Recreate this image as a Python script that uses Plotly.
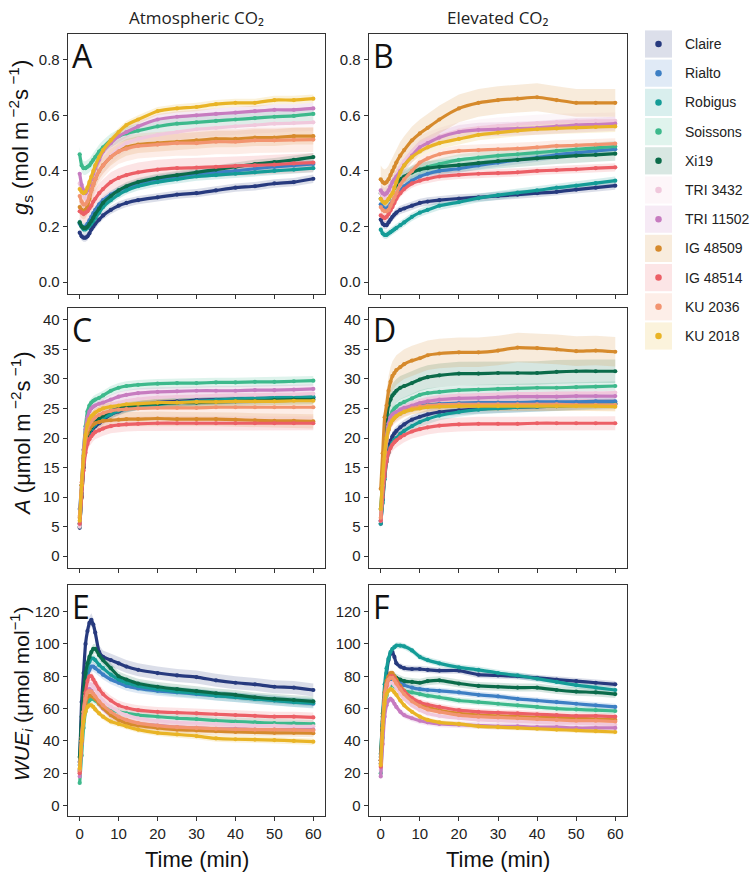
import plotly.graph_objects as go

GENOTYPES = ["Claire", "Rialto", "Robigus", "Soissons", "Xi19", "TRI 3432",
             "TRI 11502", "IG 48509", "IG 48514", "KU 2036", "KU 2018"]
COLORS = ["#273a7e", "#3d7fc4", "#149c97", "#3db98c", "#0b6b4a", "#f0c8dc",
          "#c77cc0", "#d68a2c", "#ec5f66", "#f29470", "#e9b426"]

TIME = [0, 0.5, 1, 1.5, 2, 2.5, 3, 3.5, 4, 5, 6, 8, 10, 12, 15, 20, 25, 30, 35, 40, 45, 50, 55, 60]

# stomatal conductance, atmospheric CO2 (panel A)
GS_ATM = [
    [0.178,0.165,0.160,0.160,0.165,0.175,0.190,0.200,0.210,0.225,0.240,0.260,0.275,0.285,0.295,0.305,0.315,0.320,0.330,0.340,0.345,0.355,0.360,0.372],
    [0.210,0.200,0.198,0.200,0.210,0.222,0.235,0.248,0.260,0.280,0.295,0.315,0.330,0.340,0.355,0.370,0.380,0.390,0.395,0.400,0.408,0.415,0.420,0.425],
    [0.215,0.200,0.190,0.190,0.195,0.202,0.210,0.220,0.230,0.250,0.270,0.295,0.315,0.330,0.345,0.360,0.370,0.380,0.385,0.390,0.395,0.400,0.405,0.410],
    [0.460,0.420,0.410,0.410,0.415,0.420,0.430,0.440,0.450,0.470,0.485,0.510,0.525,0.535,0.545,0.560,0.570,0.575,0.580,0.585,0.590,0.595,0.598,0.605],
    [0.215,0.200,0.195,0.195,0.200,0.210,0.220,0.232,0.245,0.265,0.285,0.310,0.330,0.345,0.360,0.375,0.385,0.395,0.405,0.415,0.425,0.432,0.440,0.450],
    [0.355,0.330,0.310,0.300,0.300,0.310,0.330,0.350,0.370,0.400,0.420,0.455,0.480,0.500,0.515,0.530,0.540,0.550,0.555,0.560,0.565,0.570,0.572,0.575],
    [0.390,0.350,0.330,0.320,0.330,0.350,0.370,0.390,0.410,0.440,0.470,0.500,0.525,0.540,0.560,0.585,0.595,0.600,0.605,0.610,0.615,0.620,0.620,0.625],
    [0.270,0.260,0.255,0.260,0.275,0.300,0.330,0.350,0.370,0.400,0.420,0.450,0.470,0.485,0.495,0.500,0.505,0.510,0.515,0.515,0.520,0.520,0.525,0.525],
    [0.255,0.250,0.245,0.250,0.255,0.265,0.275,0.290,0.300,0.320,0.335,0.360,0.375,0.385,0.395,0.405,0.410,0.412,0.415,0.418,0.420,0.423,0.427,0.430],
    [0.310,0.290,0.280,0.280,0.290,0.310,0.330,0.350,0.370,0.400,0.420,0.450,0.470,0.480,0.490,0.495,0.500,0.500,0.505,0.505,0.510,0.510,0.512,0.513],
    [0.335,0.325,0.320,0.325,0.340,0.360,0.380,0.400,0.420,0.450,0.475,0.510,0.540,0.565,0.585,0.615,0.625,0.630,0.640,0.645,0.645,0.655,0.655,0.660],
]
GS_ATM_SE = [0.015,0.015,0.015,0.025,0.015,0.03,0.02,0.03,0.035,0.045,0.015]

# stomatal conductance, elevated CO2 (panel B)
GS_ELEV = [
    [0.225,0.210,0.205,0.205,0.215,0.225,0.235,0.243,0.250,0.260,0.265,0.275,0.285,0.290,0.295,0.301,0.305,0.310,0.315,0.320,0.325,0.333,0.340,0.347],
    [0.280,0.270,0.265,0.265,0.270,0.280,0.290,0.300,0.310,0.330,0.345,0.365,0.380,0.390,0.400,0.408,0.420,0.430,0.440,0.448,0.458,0.465,0.472,0.478],
    [0.189,0.175,0.170,0.170,0.175,0.180,0.185,0.190,0.195,0.205,0.215,0.235,0.250,0.260,0.275,0.288,0.302,0.313,0.322,0.330,0.340,0.347,0.356,0.365],
    [0.320,0.310,0.300,0.300,0.310,0.320,0.330,0.340,0.350,0.365,0.378,0.395,0.405,0.415,0.425,0.440,0.448,0.455,0.460,0.466,0.472,0.478,0.483,0.488],
    [0.300,0.300,0.295,0.295,0.300,0.315,0.330,0.340,0.350,0.370,0.380,0.395,0.405,0.410,0.415,0.421,0.428,0.435,0.440,0.445,0.450,0.455,0.458,0.462],
    [0.320,0.310,0.300,0.305,0.310,0.322,0.335,0.360,0.380,0.410,0.435,0.470,0.495,0.510,0.525,0.545,0.555,0.562,0.568,0.572,0.576,0.578,0.580,0.580],
    [0.330,0.320,0.315,0.320,0.330,0.345,0.360,0.370,0.380,0.400,0.420,0.455,0.485,0.500,0.520,0.540,0.548,0.550,0.552,0.555,0.560,0.565,0.567,0.570],
    [0.370,0.360,0.355,0.360,0.370,0.385,0.400,0.415,0.430,0.455,0.475,0.510,0.535,0.555,0.585,0.625,0.645,0.655,0.660,0.665,0.655,0.645,0.645,0.645],
    [0.240,0.235,0.230,0.235,0.245,0.258,0.270,0.285,0.300,0.320,0.335,0.355,0.365,0.372,0.380,0.386,0.390,0.392,0.395,0.400,0.403,0.406,0.410,0.413],
    [0.270,0.260,0.255,0.255,0.260,0.275,0.290,0.305,0.320,0.350,0.370,0.400,0.430,0.445,0.460,0.472,0.475,0.478,0.480,0.485,0.490,0.492,0.495,0.498],
    [0.300,0.290,0.285,0.290,0.300,0.310,0.320,0.340,0.360,0.395,0.420,0.450,0.470,0.485,0.500,0.515,0.530,0.538,0.545,0.550,0.553,0.556,0.558,0.560],
]
GS_ELEV_SE = [0.015,0.015,0.015,0.02,0.025,0.03,0.025,0.05,0.015,0.02,0.02]

# net assimilation, atmospheric CO2 (panel C)
A_ATM = [
    [4.8,10.0,15.0,18.5,20.0,20.8,21.3,21.7,22.0,22.5,23.0,24.0,24.5,25.0,25.5,26.0,26.2,26.4,26.5,26.6,26.7,26.7,26.8,26.8],
    [8.0,12.0,16.0,19.0,20.5,21.3,21.8,22.2,22.5,23.0,23.5,24.3,24.8,25.2,25.5,25.8,26.0,26.2,26.3,26.5,26.6,26.7,26.8,26.9],
    [5.5,11.0,15.5,18.5,20.0,21.0,21.5,22.0,22.3,22.8,23.3,24.0,24.6,25.0,25.4,25.7,26.0,26.2,26.4,26.6,26.7,26.8,26.9,27.0],
    [5.5,12.0,18.0,22.0,24.5,25.5,26.0,26.3,26.5,26.8,27.2,28.0,28.5,28.8,29.0,29.2,29.3,29.3,29.4,29.4,29.5,29.5,29.6,29.7],
    [5.0,10.0,15.0,18.5,20.3,21.2,21.8,22.3,22.7,23.3,23.8,24.6,25.0,25.3,25.6,25.8,26.0,26.0,26.1,26.2,26.3,26.4,26.5,26.5],
    [5.0,11.0,16.0,19.5,21.5,22.5,23.2,23.7,24.0,24.5,25.0,25.6,26.0,26.3,26.6,26.9,27.0,27.1,27.2,27.3,27.3,27.4,27.4,27.5],
    [5.5,12.0,18.0,21.5,23.5,24.5,25.0,25.3,25.5,25.8,26.0,26.5,27.0,27.3,27.6,27.8,27.9,28.0,28.0,28.0,28.1,28.1,28.2,28.3],
    [6.5,12.0,16.5,19.5,20.8,21.5,22.0,22.3,22.5,22.7,22.9,23.0,23.1,23.2,23.2,23.3,23.2,23.2,23.2,23.1,23.0,22.9,22.9,22.8],
    [5.5,10.0,14.5,17.5,19.0,19.8,20.3,20.7,21.0,21.3,21.6,22.0,22.2,22.3,22.4,22.5,22.5,22.5,22.5,22.5,22.5,22.5,22.5,22.5],
    [6.8,12.5,17.0,20.0,21.5,22.3,22.8,23.2,23.5,23.9,24.2,24.6,24.8,24.9,25.0,25.1,25.1,25.1,25.2,25.2,25.2,25.2,25.2,25.2],
    [6.0,12.0,17.0,20.5,22.3,23.2,23.7,24.0,24.3,24.7,25.0,25.3,25.5,25.7,25.8,26.0,26.0,26.1,26.1,26.2,26.2,26.2,26.3,26.3],
]
A_ATM_SE = [0.7,0.7,0.7,0.8,0.8,1.0,0.8,1.2,1.2,1.5,0.7]

# net assimilation, elevated CO2 (panel D)
A_ELEV = [
    [5.5,9.5,13.5,16.5,18.5,19.5,20.3,20.8,21.2,21.8,22.3,23.1,23.6,24.0,24.4,24.7,24.9,25.1,25.2,25.3,25.4,25.6,25.8,25.9],
    [6.0,11.0,16.0,19.5,21.5,22.5,23.2,23.6,24.0,24.4,24.8,25.2,25.5,25.6,25.8,25.9,26.0,26.0,26.0,26.1,26.1,26.1,26.2,26.2],
    [5.5,9.0,13.0,16.0,17.5,18.5,19.2,19.7,20.0,20.7,21.2,22.0,22.7,23.2,23.8,24.4,24.8,25.0,25.2,25.3,25.4,25.5,25.6,25.7],
    [6.0,11.0,16.0,20.0,22.5,23.8,24.5,25.0,25.3,25.8,26.1,26.7,27.3,27.6,27.8,28.1,28.2,28.3,28.4,28.5,28.5,28.6,28.7,28.8],
    [8.0,13.0,19.0,23.0,25.5,26.5,27.2,27.6,28.0,28.5,28.8,29.3,29.9,30.3,30.6,30.9,30.9,31.0,31.0,31.0,31.2,31.3,31.3,31.3],
    [6.0,11.5,16.5,20.0,22.0,23.0,23.6,24.0,24.3,24.8,25.2,25.8,26.3,26.6,26.9,27.2,27.3,27.4,27.5,27.5,27.6,27.6,27.6,27.7],
    [6.0,12.0,17.0,20.5,22.5,23.5,24.0,24.2,24.4,24.8,25.1,25.5,25.9,26.2,26.5,26.7,26.8,26.9,27.0,27.0,27.0,27.1,27.1,27.1],
    [11.4,17.4,23.5,25.5,28.0,29.5,30.5,31.0,31.5,32.0,32.5,33.1,33.5,34.0,34.3,34.5,34.5,34.8,35.3,35.2,35.0,34.7,34.8,34.6],
    [6.0,10.0,13.5,16.0,17.5,18.3,18.9,19.3,19.6,20.1,20.5,21.1,21.5,21.8,22.1,22.3,22.4,22.4,22.4,22.5,22.5,22.5,22.5,22.5],
    [6.5,12.0,16.5,19.5,21.3,22.3,23.0,23.4,23.7,24.1,24.5,25.0,25.3,25.5,25.6,25.7,25.7,25.7,25.7,25.7,25.7,25.6,25.6,25.6],
    [8.0,13.5,17.5,20.0,21.5,22.5,23.0,23.4,23.7,24.1,24.4,24.8,25.0,25.2,25.3,25.4,25.4,25.4,25.4,25.4,25.4,25.4,25.4,25.3],
]
A_ELEV_SE = [0.8,0.8,0.8,0.8,2.0,1.5,0.8,2.5,1.2,1.0,0.8]

# intrinsic water-use efficiency, atmospheric CO2 (panel E)
WUE_ATM = [
    [27,64,82,100,108,113,115,112,107,95,92,90,88,86,84,82,80.5,79.5,77.5,76,75,73.5,73,71.5],
    [22,45,62,73,80,84,86,86,85,83,81,78,76,74,72.5,71,70,69,68,67,66,65,64,63],
    [25,50,68,78,85,89,91,91,90,87,85,81,78,76,74,72,70.5,69.5,68,67,66,65,64,63.5],
    [14,31,48,58,63,65,66,66,65,63,61,59,58,57,56,55,54,53.5,52.5,52,51.5,51,50.8,50.5],
    [30,55,70,82,88,92,95,97,97,93,90,85,80,78,75.5,73.5,72,70.8,69.5,68.5,67,66,65.3,64.5],
    [20,40,58,68,73,75,75,73.5,72,68,65,61,58,56,54,52.5,51.5,51,50.5,50,49.5,49.5,49,49],
    [18,38,56,66,71,72,71,69,67,63,60,56,53.5,52,50.5,49.5,48.5,48,47.5,47.5,47,47,47,47],
    [21,40,55,63,67,68,68,67,66,63,60.5,56,53,51,49.5,48,47,46.5,46,45.5,45.3,45,45,44.8],
    [20,40,58,70,77,80,80,78,76,72,69,65,62,60.5,59,58,57.5,57,56.5,56,55.5,55,55,54.5],
    [22,42,58,66,70,71,70.5,69,67.5,64.5,62,58,55,53,51,49.5,48.5,48,47.5,47.2,47,47,46.8,46.5],
    [23,40,52,58,61,62,62,61,59.5,57,55,52,50.5,49,47,45,44,43,41.5,41,40.8,40.5,40,39.5],
]
WUE_ATM_SE = [4.0,3.0,3.0,2.5,3.0,3.0,2.5,2.5,3.0,3.0,2.0]

# intrinsic water-use efficiency, elevated CO2 (panel F)
WUE_ELEV = [
    [28,50,70,82,90,94,95,92,88,86,85,84.5,84.5,84,83.5,83.5,81,80.5,80,79,78,77,76,75],
    [26,50,66,73,76,78,79,78.5,78,76,74.5,73,72,71.5,71,70,68.5,67.5,66,65,64,63,62,61],
    [32,57,75,85,91,95,97,98,99,99,98.5,96,92,90,88,85.5,84,82,80.5,78.5,76.5,74.5,73,71.5],
    [20,42,60,68,72,74,74.5,74,73,72,71,70,69,68,67,65,64,63,62,61,60,59.5,59,58.5],
    [30,55,68,74,77,79,80,80,79,78,77,76.5,76,77,77.5,75.5,74,73.5,73,73,71.5,70.5,70,69],
    [22,45,62,70,74,76,76,74.5,73,69,66,62,59,57,55.5,54,53,52.5,52,51.5,51,51,50.5,50],
    [18,38,55,62,65,66,65,63,61,58,56,54,52.5,51.5,50.5,50,49.5,49,49,48.5,48.5,48,48,48],
    [28,52,70,77,80,82,82,80,78,74,71,66,63,61,59,57,56,55.5,55,54.5,54.5,54,53.5,53],
    [24,48,66,74,78,80,80,78.5,76.5,73,70.5,66.5,64,62.5,61,59,58,57.5,57,56.5,56,55.5,55.5,55],
    [26,50,68,75,78,79,79,77.5,75.5,72,69,64.5,61.5,59.5,58,56,55,54.5,54,53.5,53,52.5,52.5,52],
    [25,48,63,69,71,72,71.5,70,68.5,65,62,58,55,53,51.5,50.5,49,48.5,48,47.5,47,46.5,46,45.5],
]
WUE_ELEV_SE = [2.0,2.0,2.0,2.0,2.5,2.0,2.0,2.0,2.0,2.0,1.5]

PANEL_LETTERS = ["A", "B", "C", "D", "E", "F"]
COL_TITLES = ["Atmospheric CO₂", "Elevated CO₂"]
Y_TITLES = ["<i>g</i><sub>s</sub> (mol m<sup> −2</sup>s<sup> −1</sup>)",
            "<i>A</i> (μmol m<sup> −2</sup>s<sup> −1</sup>)",
            "<i>WUE</i><sub><i>i</i></sub> (μmol mol<sup>−1</sup>)"]
X_TITLE = "Time (min)"

# ---------------- layout geometry (pixels) ----------------
W, H = 755, 875
COL_PX = [(68, 325), (369, 627)]
ROW_PX = [(34, 294), (308, 568), (585, 816)]
Y_TITLE_CENTER = [138, 434, 694]
Y_TITLE_SIZE = [22, 22, 21]
Y_RANGES = [(-0.0425, 0.8925), (-2.0, 42.0), (-6.5, 136.5)]
Y_TICKS = [[0, 0.2, 0.4, 0.6, 0.8], [0, 5, 10, 15, 20, 25, 30, 35, 40], [0, 20, 40, 60, 80, 100, 120]]
Y_TICKTEXT = [["0.0", "0.2", "0.4", "0.6", "0.8"], None, None]
X_TICKS = [0, 10, 20, 30, 40, 50, 60]

TICK_FONT = dict(family="Liberation Sans, Arial, sans-serif", size=15, color="#222")
FRAME = "#333333"


def xd(a, b):
    return [a / W, b / W]


def yd(top, bottom):
    return [1 - bottom / H, 1 - top / H]


def rgba(hexc, a):
    h = hexc.lstrip("#")
    r, g, b = int(h[0:2], 16), int(h[2:4], 16), int(h[4:6], 16)
    return f"rgba({r},{g},{b},{a})"


PANELS = [
    (GS_ATM, GS_ATM_SE), (GS_ELEV, GS_ELEV_SE),
    (A_ATM, A_ATM_SE), (A_ELEV, A_ELEV_SE),
    (WUE_ATM, WUE_ATM_SE), (WUE_ELEV, WUE_ELEV_SE),
]

fig = go.Figure()
layout = {}
annotations = []
shapes = []

for p, (data, se) in enumerate(PANELS):
    row, col = divmod(p, 2)
    n = p + 1
    xa = "x" if n == 1 else f"x{n}"
    ya = "y" if n == 1 else f"y{n}"
    # ribbons first
    for g in range(len(GENOTYPES)):
        up = [v + se[g] for v in data[g]]
        lo = [v - se[g] for v in data[g]]
        fig.add_trace(go.Scatter(
            x=TIME + TIME[::-1], y=up + lo[::-1], fill="toself",
            fillcolor=rgba(COLORS[g], 0.17), line=dict(width=0),
            mode="lines", hoverinfo="skip", showlegend=False,
            xaxis=xa, yaxis=ya))
    for g in range(len(GENOTYPES)):
        fig.add_trace(go.Scatter(
            x=TIME, y=data[g], mode="lines+markers", name=GENOTYPES[g],
            line=dict(color=COLORS[g], width=3.2, shape="spline", smoothing=0.5),
            marker=dict(size=4.2, color=COLORS[g]),
            showlegend=False, xaxis=xa, yaxis=ya))

    xkey = "xaxis" if n == 1 else f"xaxis{n}"
    ykey = "yaxis" if n == 1 else f"yaxis{n}"
    layout[xkey] = dict(
        domain=xd(*COL_PX[col]), anchor=ya, range=[-3, 63],
        tickmode="array", tickvals=X_TICKS, showticklabels=(row == 2),
        ticks="outside", ticklen=4, tickwidth=1, tickcolor=FRAME,
        showline=True, mirror=True, linecolor=FRAME, linewidth=1.3,
        showgrid=False, zeroline=False, tickfont=TICK_FONT)
    ykw = dict(
        domain=yd(*ROW_PX[row]), anchor=xa, range=list(Y_RANGES[row]),
        tickmode="array", tickvals=Y_TICKS[row],
        ticks="outside", ticklen=4, tickwidth=1, tickcolor=FRAME,
        showline=True, mirror=True, linecolor=FRAME, linewidth=1.3,
        showgrid=False, zeroline=False, tickfont=TICK_FONT)
    if Y_TICKTEXT[row] is not None:
        ykw["ticktext"] = Y_TICKTEXT[row]
    layout[ykey] = ykw

    # panel letter
    annotations.append(dict(
        text=PANEL_LETTERS[p], xref="paper", yref="paper",
        x=(COL_PX[col][0] + 2) / W, y=1 - (ROW_PX[row][0] - 2) / H,
        xanchor="left", yanchor="top", showarrow=False,
        font=dict(family="Open Sans, sans-serif", size=32, color="#111")))

# column titles
for col in range(2):
    cx = (COL_PX[col][0] + COL_PX[col][1]) / 2
    annotations.append(dict(
        text=COL_TITLES[col], xref="paper", yref="paper", x=cx / W, y=1 - 17 / H,
        xanchor="center", yanchor="middle", showarrow=False,
        font=dict(family="Open Sans, sans-serif", size=17, color="#222")))

# y-axis titles
for row in range(3):
    annotations.append(dict(
        text=Y_TITLES[row], xref="paper", yref="paper", x=21 / W,
        y=1 - Y_TITLE_CENTER[row] / H,
        xanchor="center", yanchor="middle", textangle=-90, showarrow=False,
        font=dict(family="Liberation Sans, Arial, sans-serif", size=Y_TITLE_SIZE[row], color="#111")))

# x-axis titles
for col in range(2):
    cx = (COL_PX[col][0] + COL_PX[col][1]) / 2
    annotations.append(dict(
        text=X_TITLE, xref="paper", yref="paper", x=cx / W, y=1 - 859 / H,
        xanchor="center", yanchor="middle", showarrow=False,
        font=dict(family="Liberation Sans, Arial, sans-serif", size=22, color="#111")))

# ---------------- legend on its own pixel-scaled axis ----------------
LEG_X0, LEG_X1, LEG_Y0, LEG_Y1 = 640, 755, 28, 352
layout["xaxis7"] = dict(domain=xd(LEG_X0, LEG_X1), range=[LEG_X0, LEG_X1], visible=False,
                        anchor="y7", fixedrange=True)
layout["yaxis7"] = dict(domain=yd(LEG_Y0, LEG_Y1), range=[LEG_Y1, LEG_Y0], visible=False,
                        anchor="x7", fixedrange=True)
centers = [44 + 29.2 * i for i in range(len(GENOTYPES))]
for i, g in enumerate(GENOTYPES):
    shapes.append(dict(type="rect", xref="x7", yref="y7", x0=645, x1=672,
                       y0=centers[i] - 13.6, y1=centers[i] + 13.6,
                       fillcolor=rgba(COLORS[i], 0.16), line=dict(width=0), layer="below"))
    annotations.append(dict(text=g, xref="x7", yref="y7", x=683, y=centers[i],
                            xanchor="left", yanchor="middle", showarrow=False,
                            font=dict(family="Liberation Sans, Arial, sans-serif", size=14, color="#222")))
fig.add_trace(go.Scatter(x=[658.5] * len(GENOTYPES), y=centers, mode="markers",
                         marker=dict(size=6.5, color=COLORS), hoverinfo="skip",
                         showlegend=False, xaxis="x7", yaxis="y7"))

fig.update_layout(
    width=W, height=H, margin=dict(l=0, r=0, t=0, b=0),
    paper_bgcolor="white", plot_bgcolor="white", showlegend=False,
    annotations=annotations, shapes=shapes, **layout)

fig.write_html("out.html", config={"displayModeBar": False, "staticPlot": True},
               post_script="document.body.style.margin='0';document.body.style.overflow='hidden';")
